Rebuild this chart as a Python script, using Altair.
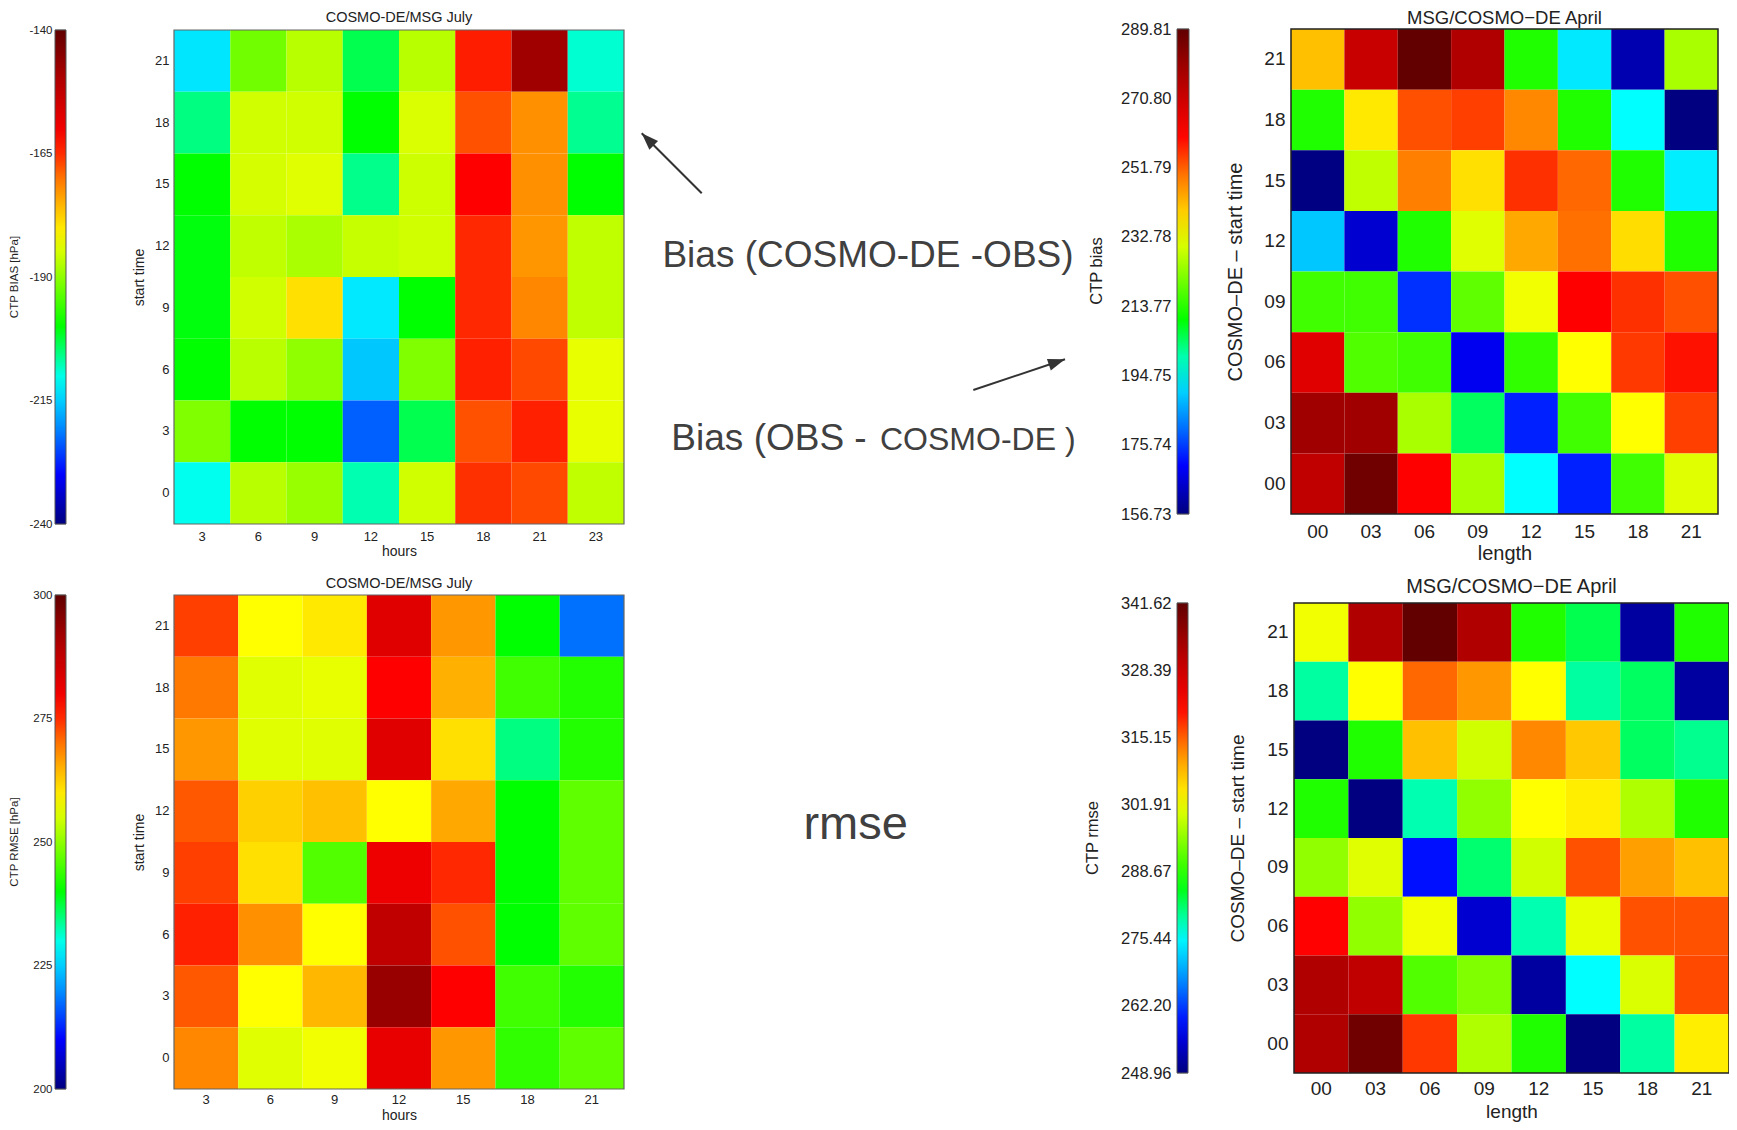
import altair as alt
import pandas as pd

W, H = 1721, 1114
FONT = "Liberation Sans"

# ---------------- data ----------------
july_hours_bias = ["3", "6", "9", "12", "15", "18", "21", "23"]
july_hours_rmse = ["3", "6", "9", "12", "15", "18", "21"]
july_start = ["21", "18", "15", "12", "9", "6", "3", "0"]          # top -> bottom
april_length = ["00", "03", "06", "09", "12", "15", "18", "21"]
april_start = ["21", "18", "15", "12", "09", "06", "03", "00"]     # top -> bottom

# CTP BIAS [hPa], COSMO-DE/MSG July (rows = start time 21..0, cols = hours)
bias_july = [
    [-213.0, -192.0, -187.0, -203.4, -187.0, -164.0, -148.0, -209.0],
    [-205.5, -185.3, -185.3, -200.0, -184.7, -167.6, -172.0, -206.2],
    [-200.0, -185.0, -184.2, -206.0, -185.5, -162.0, -172.0, -200.0],
    [-200.5, -186.5, -188.0, -186.0, -185.3, -164.8, -172.5, -186.5],
    [-200.5, -185.3, -179.2, -212.8, -200.0, -164.8, -171.4, -186.5],
    [-200.0, -186.9, -189.8, -215.5, -191.0, -164.2, -167.0, -183.6],
    [-191.0, -200.0, -200.0, -223.3, -203.4, -167.6, -164.2, -183.6],
    [-210.3, -187.0, -189.3, -207.6, -185.3, -165.3, -167.0, -186.5],
]
bias_july_ticks = [-240, -215, -190, -165, -140]

# CTP RMSE [hPa], COSMO-DE/MSG July
rmse_july = [
    [273.6, 258.0, 260.0, 282.7, 267.3, 240.0, 217.8],
    [269.7, 255.8, 256.4, 278.0, 265.1, 244.5, 242.3],
    [267.3, 255.8, 255.8, 282.7, 260.8, 234.5, 242.3],
    [271.9, 262.2, 263.7, 258.0, 265.8, 240.0, 246.8],
    [273.6, 260.8, 245.7, 280.6, 275.2, 240.0, 246.8],
    [275.8, 268.0, 258.0, 287.6, 272.4, 240.0, 246.8],
    [271.9, 258.0, 264.5, 293.0, 278.0, 244.5, 242.3],
    [268.6, 255.8, 257.0, 281.5, 267.3, 243.4, 246.8],
]
rmse_july_ticks = [200, 225, 250, 275, 300]

# CTP bias, MSG/COSMO-DE April
bias_april = [
    [241.5, 271.7, 289.5, 276.5, 213.0, 192.9, 161.8, 225.8],
    [213.0, 236.6, 253.1, 254.7, 248.0, 213.0, 195.3, 156.9],
    [157.0, 227.9, 248.7, 237.6, 256.1, 250.9, 213.0, 193.5],
    [189.3, 165.1, 213.0, 231.0, 244.3, 250.2, 238.0, 213.0],
    [215.9, 215.9, 174.5, 219.0, 232.6, 260.5, 256.1, 253.1],
    [266.8, 217.5, 215.9, 168.5, 214.5, 233.9, 255.3, 259.0],
    [279.2, 279.2, 225.8, 204.5, 173.0, 215.9, 233.9, 254.7],
    [273.3, 287.1, 260.5, 225.8, 195.3, 173.0, 215.9, 231.0],
]
bias_april_ticks = [156.73, 175.74, 194.75, 213.77, 232.78, 251.79, 270.80, 289.81]

# CTP rmse, MSG/COSMO-DE April
rmse_april = [
    [301.8, 332.4, 341.4, 332.4, 288.1, 282.9, 251.4, 288.1],
    [279.6, 302.7, 314.6, 311.3, 302.7, 279.6, 282.2, 251.4],
    [249.1, 288.1, 308.0, 299.6, 312.5, 307.3, 282.2, 280.3],
    [288.1, 249.0, 279.0, 295.5, 302.7, 304.1, 297.5, 288.1],
    [295.5, 300.7, 259.2, 281.6, 299.6, 316.0, 310.7, 308.0],
    [321.2, 295.5, 301.8, 254.8, 279.0, 301.2, 316.0, 316.0],
    [332.4, 330.1, 291.3, 294.4, 251.4, 275.8, 300.2, 316.6],
    [332.4, 339.8, 317.6, 297.5, 288.1, 249.1, 279.6, 304.1],
]
rmse_april_ticks = [248.96, 262.20, 275.44, 288.67, 301.91, 315.15, 328.39, 341.62]

# ---------------- styling ----------------
STOP_F = [0.0, 0.10, 0.20, 0.29, 0.40, 0.58, 0.68, 0.78, 0.90, 1.0]
COLORS = ["#00007f", "#0000ff", "#0090ff", "#00ffff", "#00ff00",
          "#ffff00", "#ff9000", "#ff0000", "#b00000", "#600000"]

dummy = pd.DataFrame({"k": [0]})


def long_df(rows, cols, vals):
    recs = []
    for r, row in zip(rows, vals):
        for c, v in zip(cols, row):
            recs.append({"row": r, "col": c, "val": v})
    return pd.DataFrame(recs)


def heat(rows, cols, vals, ticks, xr, yr, lab, leg):
    cmin, cmax = ticks[0], ticks[-1]
    stops = [cmin + f * (cmax - cmin) for f in STOP_F]
    stops[-1] = cmax
    df = long_df(rows, cols, vals)
    xaxis = alt.Axis(
        orient="bottom", offset=yr[1] - H, title=lab["xtitle"],
        titleX=(xr[0] + xr[1]) / 2, titleY=lab["xtitleY"], titleBaseline="middle",
        titleFont=FONT, titleFontSize=lab["tsize"], titleFontWeight="normal", titleColor="#222",
        labelFont=FONT, labelFontSize=lab["lsize"], labelColor="#222", labelAngle=0,
        labelPadding=lab["xpad"], ticks=False, tickSize=0, domain=False, grid=False,
    )
    yaxis = alt.Axis(
        orient="left", offset=-xr[0], title=lab["ytitle"],
        titleX=lab["ytitleX"], titleY=(yr[0] + yr[1]) / 2, titleAngle=270,
        titleBaseline="middle", titleAlign="center",
        titleFont=FONT, titleFontSize=lab["tsize"], titleFontWeight="normal", titleColor="#222",
        labelFont=FONT, labelFontSize=lab["lsize"], labelColor="#222",
        labelPadding=lab["ypad"], ticks=False, tickSize=0, domain=False, grid=False,
    )
    legend = alt.Legend(
        orient="none", legendX=leg["x"], legendY=yr[0], direction="vertical",
        gradientLength=yr[1] - yr[0], gradientThickness=leg["th"], title=None,
        values=ticks, labelOpacity=0, labelFontSize=1,
        gradientStrokeColor="#555", gradientStrokeWidth=1,
    )
    cells = alt.Chart(df).mark_rect().encode(
        x=alt.X("col:O", scale=alt.Scale(type="band", domain=cols, range=list(xr),
                                         paddingInner=0, paddingOuter=0), axis=xaxis),
        y=alt.Y("row:O", scale=alt.Scale(type="band", domain=rows, range=list(yr),
                                         paddingInner=0, paddingOuter=0), axis=yaxis),
        color=alt.Color("val:Q", scale=alt.Scale(domain=stops, range=COLORS, interpolate="rgb"),
                        legend=legend),
    )
    # colourbar tick marks + labels (labels to the left of the bar)
    tdf = pd.DataFrame({"t": ticks})
    baxis = alt.Axis(
        orient="left", offset=-leg["x"], title=None, values=ticks,
        labelExpr=leg["expr"],
        labelFont=FONT, labelFontSize=leg["size"], labelColor="#222",
        labelPadding=leg["pad"], labelOverlap=False, labelFlush=False,
        ticks=False, tickSize=0, domain=False, grid=False,
    )
    bticks = alt.Chart(tdf).mark_rule(color="#000", strokeWidth=1, opacity=0.45).encode(
        x=alt.value(leg["x"]), x2=alt.value(leg["x"] + leg["th"]),
        y=alt.Y("t:Q", scale=alt.Scale(domain=[cmin, cmax], range=[yr[1], yr[0]],
                                       zero=False, nice=False), axis=baxis),
    )
    return [cells, bticks]


def frame(xr, yr, color, width):
    return alt.Chart(dummy).mark_rect(fillOpacity=0, stroke=color, strokeWidth=width).encode(
        x=alt.value(xr[0]), x2=alt.value(xr[1]), y=alt.value(yr[0]), y2=alt.value(yr[1]))


def txt(s, x, y, size, angle=0, align="center", baseline="middle", color="#222"):
    return alt.Chart(dummy).mark_text(
        text=s, font=FONT, fontSize=size, angle=angle, align=align,
        baseline=baseline, color=color).encode(x=alt.value(x), y=alt.value(y))


def arrow(x1, y1, x2, y2, ang):
    line = alt.Chart(dummy).mark_rule(color="#333", strokeWidth=2).encode(
        x=alt.value(x1), y=alt.value(y1), x2=alt.value(x2), y2=alt.value(y2))
    head = alt.Chart(dummy).mark_point(
        shape="M0,0L-0.36,1L0.36,1Z", filled=True, color="#333", opacity=1,
        size=1156, angle=ang, strokeWidth=0).encode(x=alt.value(x2), y=alt.value(y2))
    return [line, head]


labL = dict(xtitle="hours", ytitle="start time", tsize=14, lsize=13, xpad=6, ypad=5,
            xtitleY=27, ytitleX=-35)
labR = dict(xtitle="length", ytitle="COSMO\u2013DE \u2013 start time", tsize=20, lsize=19,
            xpad=8, ypad=6, xtitleY=39, ytitleX=-56)

INT_EXPR = "'' + datum.value"
DEC_EXPR = "format(datum.value, '.2f')"

# panel geometry (chart coordinates)
A_x, A_y = (166, 616), (22, 516)
B_x, B_y = (166, 616), (587, 1081)
C_x, C_y = (1283, 1710), (21, 506)
D_x, D_y = (1286, 1721), (595, 1065)

layers = []
layers += heat(july_start, july_hours_bias, bias_july, bias_july_ticks, A_x, A_y, labL,
               dict(x=47, th=11, expr=INT_EXPR, size=11.5, pad=3))
layers += heat(july_start, july_hours_rmse, rmse_july, rmse_july_ticks, B_x, B_y,
               dict(labL, xtitleY=26, xpad=4),
               dict(x=47, th=11, expr=INT_EXPR, size=11.5, pad=3))
layers += heat(april_start, april_length, bias_april, bias_april_ticks, C_x, C_y, labR,
               dict(x=1169, th=12, expr=DEC_EXPR, size=16.5, pad=6))
layers += heat(april_start, april_length, rmse_april, rmse_april_ticks, D_x, D_y,
               dict(labR, xtitleY=38, ytitleX=-57, xpad=6, tsize=19),
               dict(x=1169, th=11, expr=DEC_EXPR, size=16.5, pad=6))
layers += [
    frame(A_x, A_y, "#666", 1.2),
    frame(B_x, B_y, "#666", 1.2),
    frame(C_x, C_y, "#222", 1.5),
    frame(D_x, D_y, "#222", 1.5),
    # panel titles
    txt("COSMO-DE/MSG July", (A_x[0] + A_x[1]) / 2, 10, 14.5),
    txt("COSMO-DE/MSG July", (B_x[0] + B_x[1]) / 2, 576, 14.5),
    txt("MSG/COSMO\u2212DE April", (C_x[0] + C_x[1]) / 2, 1, 18.5, baseline="top"),
    txt("MSG/COSMO\u2212DE April", (D_x[0] + D_x[1]) / 2, 579, 20),
    # colorbar titles
    txt("CTP BIAS [hPa]", 7, 269, 11.5, angle=270),
    txt("CTP RMSE [hPa]", 7, 834, 11.5, angle=270),
    txt("CTP bias", 1089, 263, 16.5, angle=270),
    txt("CTP rmse", 1085, 830, 16.5, angle=270),
    # annotations
    txt("Bias (COSMO-DE -OBS)", 860, 258.7, 37, baseline="alphabetic", color="#404040"),
    txt("Bias (OBS -", 858.7, 442, 37, align="right", baseline="alphabetic", color="#404040"),
    txt("COSMO-DE )", 872, 442, 32, align="left", baseline="alphabetic", color="#404040"),
    txt("rmse", 847.6, 831, 47, baseline="alphabetic", color="#404040"),
]
layers += arrow(693.7, 185.3, 633.7, 125.3, 315)
layers += arrow(965.3, 382, 1057, 351.3, 71.5)

chart = (
    alt.layer(*layers)
    .resolve_scale(x="independent", y="independent", color="independent")
    .resolve_axis(x="independent", y="independent")
    .resolve_legend(color="independent")
    .properties(width=W, height=H, autosize=alt.AutoSizeParams(type="none"), padding=0)
    .configure_view(strokeWidth=0)
)

chart.save("out.html", embed_options={"renderer": "svg", "actions": False})
